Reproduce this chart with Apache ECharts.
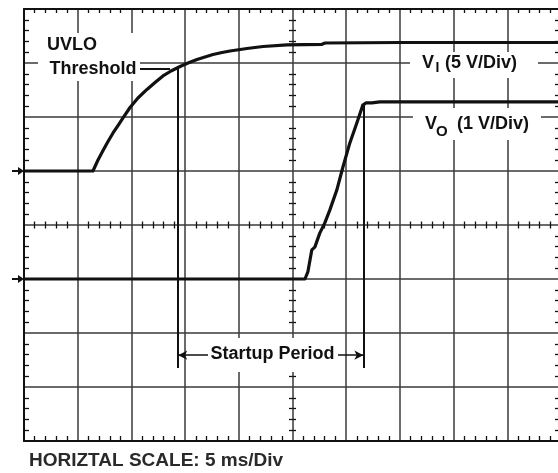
<!DOCTYPE html>
<html><head><meta charset="utf-8">
<script src="https://cdn.jsdelivr.net/npm/echarts@6/dist/echarts.min.js"></script>
<style>html,body{margin:0;padding:0;background:#fff}#c{width:558px;height:473px}</style>
</head><body><div id="c"></div>
<script>
// ---- Data (time in ms, 5 ms/div) ----
const viTime  = [0, 6.42, 6.89, 7.36, 7.82, 8.29, 8.75, 9.22, 9.87, 10.61, 11.45, 12.20, 12.94, 13.69, 14.53, 15.27, 16.11, 16.85, 17.60, 18.44, 19.18, 20.76, 22.25, 24.49, 27.75, 28.03, 35.01, 50];
const viVolts = [0, 0, 1.02, 1.90, 2.73, 3.52, 4.21, 4.91, 5.88, 6.76, 7.55, 8.19, 8.80, 9.26, 9.68, 10.00, 10.32, 10.56, 10.79, 10.97, 11.11, 11.34, 11.53, 11.67, 11.73, 11.85, 11.90, 11.90];
const voTime  = [0, 26.16, 26.43, 26.80, 27.08, 27.54, 28.01, 28.48, 29.13, 29.69, 30.34, 30.99, 31.55, 31.83, 32.39, 33.13, 50];
const voVolts = [0, 0, 0.13, 0.54, 0.59, 0.85, 1.04, 1.28, 1.65, 2.07, 2.52, 2.89, 3.22, 3.26, 3.26, 3.28, 3.28];

// axis ranges (divisions: 10 horizontal, 8 vertical)
const timeRange = [0, 50, 5];      // ms, 5 ms/div
const viRange   = [-25, 15, 5];    // V, 5 V/div
const voRange   = [-3, 5, 1];      // V, 1 V/div

// annotation values
const uvloTime = 14.36;       // ms
const uvloLevel = 9.5;        // V (VI)
const leaderFrom = 10.78;     // ms
const leaderTo = 13.6;        // ms
const startupEnd = 31.6;      // ms
const voFinal = 3.26;         // V (VO)
const markerBottomVi = -18.24;
const markerBottomVo = -1.65;
const arrowLevelVo = -1.41;

const labelUvlo = ['UVLO', 'Threshold'];
const labelVi = ['V', 'I', '(5 V/Div)'];
const labelVo = ['V', 'O', '(1 V/Div)'];
const labelStartup = 'Startup Period';
const labelScale = 'HORIZTAL SCALE: 5 ms/Div';

// ---- Chart ----
const INK = '#111', GRID = '#3a3a3a', FONT = '"Liberation Sans", Arial, sans-serif';
const pairs = (xs, ys) => xs.map((x, i) => [x, ys[i]]);

function axis(range, extra) {
  const base = {
    type: 'value', min: range[0], max: range[1], interval: range[2],
    axisLabel: { show: false },
    axisTick: { show: false, inside: true },
    splitLine: { show: false },
    axisLine: { show: false, onZero: false },
    minorTick: { show: false }
  };
  for (const k in extra) base[k] = extra[k];
  return base;
}
const border = { show: true, onZero: false, lineStyle: { color: INK, width: 2 } };
const noLine = { show: false, onZero: false };
const gridLine = { show: true, lineStyle: { color: GRID, width: 1.5 } };
const mt = (len) => ({ show: true, splitNumber: 5, length: len, lineStyle: { color: INK, width: 1.3 } });

const ground = {
  symbol: 'path://M0,3L6,3L6,0L12,4L6,8L6,5L0,5Z',
  symbolSize: [12, 8], symbolOffset: [-6, 0],
  itemStyle: { color: INK }, label: { show: false }, silent: true,
  data: [{ coord: [0, 0] }]
};

const txt = (text, x, y, size, extra) => Object.assign({
  type: 'text', z: 101,
  style: { text: text, x: x, y: y, font: 'bold ' + size + 'px ' + FONT, fill: INK, align: 'left', verticalAlign: 'middle' }
}, extra || {});
const box = (x, y, w, h) => ({ type: 'rect', z: 100, shape: { x: x, y: y, width: w, height: h }, style: { fill: '#fff' } });

const option = {
  animation: false,
  backgroundColor: '#fff',
  grid: { left: 24, right: -3, top: 9, bottom: 32, outerBoundsMode: 'none', containLabel: false },
  xAxis: [
    axis(timeRange, { position: 'bottom', axisLine: border, splitLine: gridLine, minorTick: mt(5) }),
    axis(timeRange, { position: 'top', axisLine: border, minorTick: mt(4) }),
    axis(timeRange, { position: 'bottom', offset: -216, axisLine: noLine, minorTick: mt(3.5) }),
    axis(timeRange, { position: 'bottom', offset: -216, axisLine: noLine, axisTick: { show: false, inside: false }, minorTick: mt(3.5) })
  ],
  yAxis: [
    axis(viRange, { position: 'left', axisLine: border, splitLine: gridLine, minorTick: mt(5) }),
    axis(voRange, { position: 'right', axisLine: border, minorTick: mt(6) }),
    axis(voRange, { position: 'left', offset: -268.5, axisLine: noLine, minorTick: mt(3.5) }),
    axis(voRange, { position: 'left', offset: -268.5, axisLine: noLine, axisTick: { show: false, inside: false }, minorTick: mt(3.5) })
  ],
  series: [
    {
      name: 'VI', type: 'line', xAxisIndex: 0, yAxisIndex: 0,
      data: pairs(viTime, viVolts), showSymbol: false, smooth: false,
      lineStyle: { color: INK, width: 3.2, join: 'round' }, itemStyle: { color: INK },
      markPoint: ground,
      markLine: {
        silent: true, symbol: 'none', label: { show: false },
        lineStyle: { color: INK, width: 2, type: 'solid' },
        data: [
          [{ coord: [uvloTime, uvloLevel] }, { coord: [uvloTime, markerBottomVi] }],
          [{ coord: [leaderFrom, uvloLevel] }, { coord: [leaderTo, uvloLevel] }]
        ]
      }
    },
    {
      name: 'VO', type: 'line', xAxisIndex: 0, yAxisIndex: 1,
      data: pairs(voTime, voVolts), showSymbol: false, smooth: false,
      lineStyle: { color: INK, width: 3.2, join: 'round' }, itemStyle: { color: INK },
      markPoint: ground,
      markLine: {
        silent: true, symbol: 'none', label: { show: false },
        lineStyle: { color: INK, width: 2, type: 'solid' },
        data: [
          [{ coord: [startupEnd, voFinal] }, { coord: [startupEnd, markerBottomVo] }],
          [{ coord: [uvloTime, arrowLevelVo], symbol: 'arrow', symbolSize: [7, 9], lineStyle: { width: 1.6 } },
           { coord: [startupEnd, arrowLevelVo], symbol: 'arrow', symbolSize: [7, 9] }]
        ]
      }
    }
  ],
  graphic: [
    box(38, 33, 102, 48),
    txt(labelUvlo[0], 47, 45.5, 18),
    txt(labelUvlo[1], 49.5, 69.5, 18),
    box(410, 52, 128, 26),
    txt(labelVi[0], 422, 63.5, 18),
    txt(labelVi[1], 435.5, 68.5, 14),
    txt(labelVi[2], 445, 63.5, 18),
    box(413, 108, 128, 32),
    txt(labelVo[0], 425, 124, 18),
    txt(labelVo[1], 436, 132, 15),
    txt(labelVo[2], 457, 124, 18),
    box(208, 338, 130, 34),
    txt(labelStartup, 272.5, 354.5, 18, {}),
    txt(labelScale, 29, 460.5, 19)
  ]
};
option.graphic[12].style.align = 'center';
option.graphic[13].style.fill = '#2a2a2a';

const chart = echarts.init(document.getElementById('c'), null, { renderer: 'canvas' });
chart.setOption(option);
</script>
</body></html>
